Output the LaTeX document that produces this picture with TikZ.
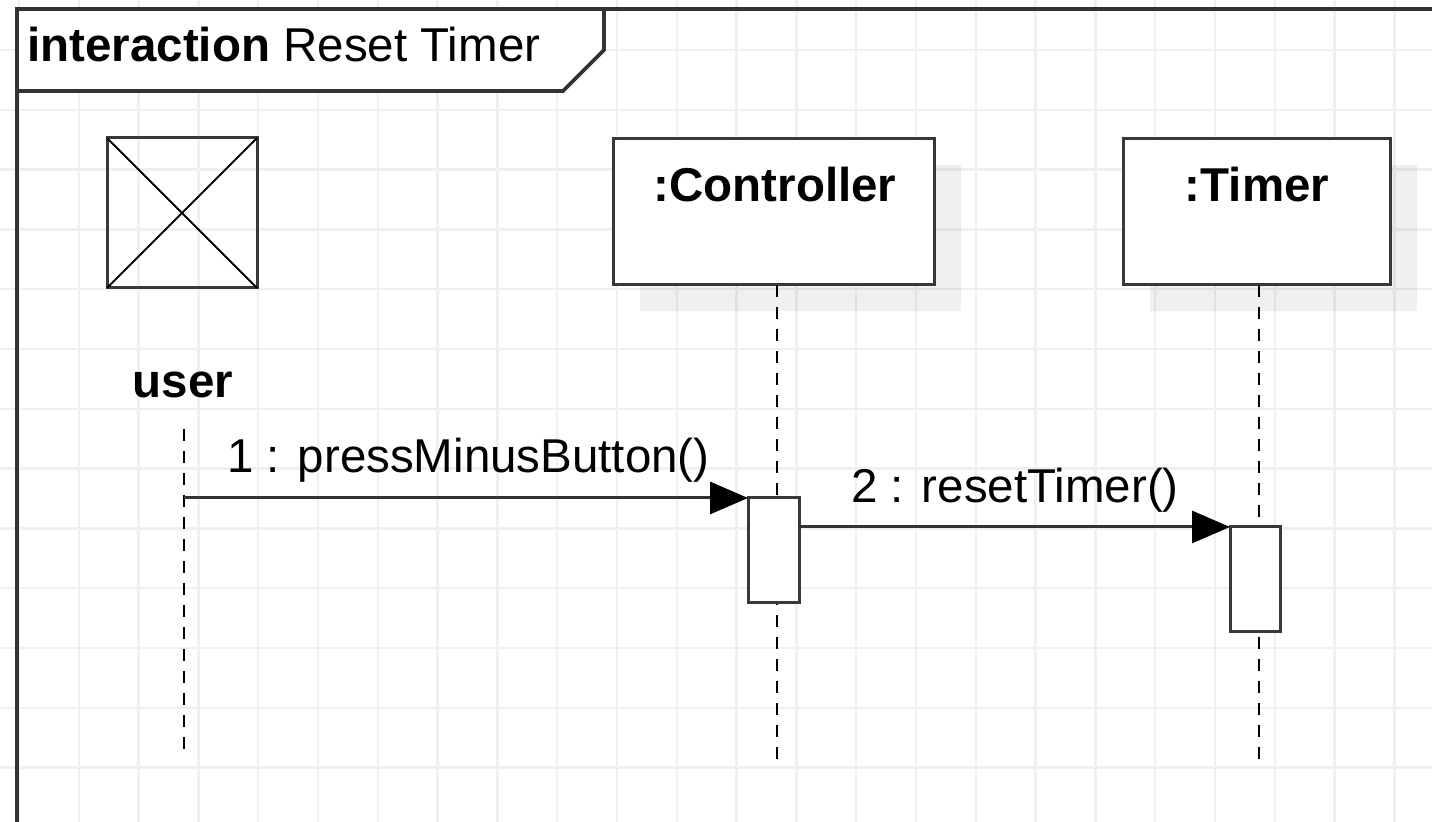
\documentclass[tikz,border=0pt]{standalone}
\usepackage{fontspec}
\setmainfont{Liberation Sans}
\usetikzlibrary{arrows.meta,shadows,positioning}

\tikzset{
  gridline/.style={draw=black!6, line width=1.25pt},
  framebox/.style={draw=black!80, line width=1.8pt},
  objbox/.style={draw=black!78, line width=1.5pt, fill=white, minimum height=73pt, inner sep=0pt, outer sep=0pt,
    drop shadow={shadow xshift=13.5pt, shadow yshift=-13pt, fill=black, opacity=0.06}},
  actbox/.style={draw=black!78, line width=1.5pt, fill=white, minimum height=52.5pt, inner sep=0pt, outer sep=0pt},
  lifeline/.style={draw=black, line width=1.25pt, dash pattern=on 6pt off 5pt},
  msg/.style={draw=black!80, line width=1.5pt, -{Triangle[length=19pt,width=16pt,fill=black,color=black]}},
  txt/.style={inner sep=0pt, font=\fontsize{23.75pt}{28pt}\selectfont},
  boldtxt/.style={inner sep=0pt, font=\fontsize{23.75pt}{28pt}\selectfont\bfseries},
}

\begin{document}
\begin{tikzpicture}[x=0.5pt, y=-0.5pt]
  \clip (0,0) rectangle (1432,822);

  % background grid
  \foreach \gx in {0,...,23}
    \draw[gridline] ({19+59.8*\gx},0) -- ({19+59.8*\gx},822);
  \foreach \gy in {0,...,13}
    \draw[gridline] (0,{-9.8+59.8*\gy}) -- (1432,{-9.8+59.8*\gy});

  % frame and its name tag
  \draw[framebox] (1460,9) -- (17,9) -- (17,850);
  \draw[framebox, fill=white] (17,9) -- (604,9) -- (604,50) -- (563,91) -- (17,91) -- cycle;
  \node[txt, anchor=base west] (title) at (27,62) {\textbf{interaction} Reset Timer};

  % actor
  \node[draw=black!78, line width=1.5pt, minimum size=75pt, inner sep=0pt, outer sep=0pt] (actor) at (182,213) {};
  \draw[black, line width=1pt] (actor.north west) -- (actor.south east)
    (actor.north east) -- (actor.south west);
  \node[boldtxt, anchor=base] (user) at (183,398) {user};

  % objects
  \node[objbox, minimum width=160.5pt] (ctrl) at (773.5,212) {};
  \node[boldtxt, anchor=base] (ctrllbl) at (775,202) {:Controller};
  \node[objbox, minimum width=133.5pt] (timer) at (1256.5,212) {};
  \node[boldtxt, anchor=base] (timerlbl) at (1257,202) {:Timer};

  % lifelines
  \coordinate (usertop) at (184,429);
  \coordinate (userend) at (184,755);
  \coordinate (ctrlend) at (777,765);
  \coordinate (timerend) at (1259,765);
  \draw[lifeline] (usertop) -- (userend);
  \draw[lifeline] (ctrl.south -| ctrlend) -- (ctrlend);
  \draw[lifeline] (timer.south -| timerend) -- (timerend);

  % activations
  \node[actbox, minimum width=25.5pt] (ctrlact) at (773.5,550.5) {};
  \node[actbox, minimum width=25pt] (timeract) at (1255,579.5) {};

  % messages
  \draw[msg] (usertop |- ctrlact.north) -- (ctrlact.north west);
  \node[txt, anchor=base west] (msg1) at (227,473) {1 : pressMinusButton()};
  \draw[msg] (ctrlact.east |- timeract.north) -- (timeract.north west);
  \node[txt, anchor=base west] (msg2) at (851,503) {2 : resetTimer()};
\end{tikzpicture}
\end{document}
